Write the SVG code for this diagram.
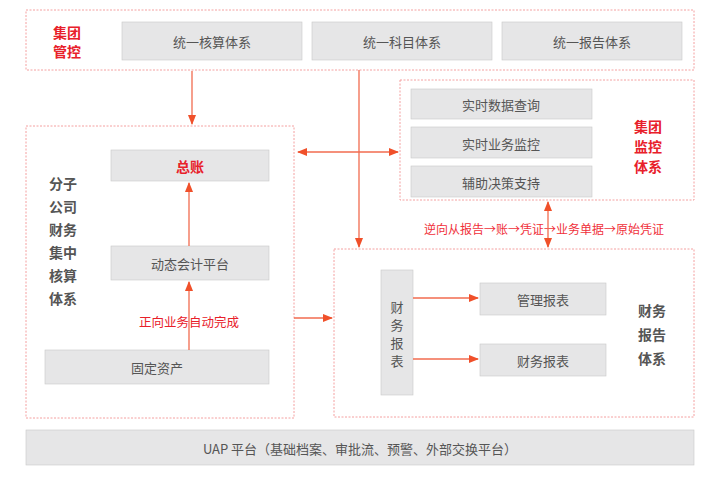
<svg xmlns="http://www.w3.org/2000/svg" width="720" height="480" viewBox="0 0 720 480">
<style>
text{font-family:"Noto Sans CJK SC","Liberation Sans",sans-serif;text-anchor:middle;dominant-baseline:central}
.fr{fill:#fff;stroke:#f4a0a0;stroke-width:1;stroke-dasharray:2 1.5}
.bx{fill:#e6e6e7;stroke:#c8c8c8;stroke-width:0.6}
.bt{font-size:13px;fill:#555}
.rl{font-size:14px;font-weight:bold;fill:#e8202a}
.gl{font-size:14px;font-weight:bold;fill:#555}
.ln{stroke:#f26b4f;stroke-width:1.3;fill:none}
</style>
<defs>
<marker id="a" viewBox="0 0 10 10" refX="9" refY="5" markerWidth="8" markerHeight="8" orient="auto-start-reverse"><path d="M0,1L10,5L0,9z" fill="#f0502a"/></marker>
</defs>
<rect width="720" height="480" fill="#fff"/>
<g id="top"><rect class="fr" x="26" y="10" width="668" height="60"/>
<text class="rl" x="67" y="32">集团</text><text class="rl" x="67" y="51">管控</text>
<rect class="bx" x="122" y="22" width="180" height="38"/><text class="bt" x="212" y="41">统一核算体系</text>
<rect class="bx" x="312" y="22" width="180" height="38"/><text class="bt" x="402" y="41">统一科目体系</text>
<rect class="bx" x="502" y="22" width="180" height="38"/><text class="bt" x="592" y="41">统一报告体系</text></g>
<g id="left"><rect class="fr" x="26" y="126" width="268" height="292"/>
<text class="gl" x="63" y="183">分子</text><text class="gl" x="63" y="206">公司</text><text class="gl" x="63" y="229">财务</text><text class="gl" x="63" y="252">集中</text><text class="gl" x="63" y="275">核算</text><text class="gl" x="63" y="298">体系</text>
<rect class="bx" x="111" y="150" width="158" height="31"/><text class="rl" x="190" y="166">总账</text>
<rect class="bx" x="111" y="246" width="158" height="34"/><text class="bt" x="190" y="263">动态会计平台</text>
<rect class="bx" x="45" y="350" width="224" height="34"/><text class="bt" x="157" y="367">固定资产</text>
<text x="189" y="321" style="font-size:12.5px;fill:#e8202a">正向业务自动完成</text></g>
<g id="mon"><rect class="fr" x="400" y="80" width="294" height="120"/>
<rect class="bx" x="411" y="89" width="181" height="30"/><text class="bt" x="501" y="104">实时数据查询</text>
<rect class="bx" x="411" y="127" width="181" height="31"/><text class="bt" x="501" y="143">实时业务监控</text>
<rect class="bx" x="411" y="166" width="181" height="31"/><text class="bt" x="501" y="182">辅助决策支持</text>
<text class="rl" x="648" y="126">集团</text><text class="rl" x="648" y="146">监控</text><text class="rl" x="648" y="166">体系</text></g>
<g id="rep"><rect class="fr" x="334" y="249" width="360" height="168"/>
<rect class="bx" x="381" y="270" width="32" height="125"/>
<text class="bt" x="397" y="306">财</text><text class="bt" x="397" y="324">务</text><text class="bt" x="397" y="342">报</text><text class="bt" x="397" y="360">表</text>
<rect class="bx" x="480" y="283" width="126" height="32"/><text class="bt" x="543" y="299">管理报表</text>
<rect class="bx" x="480" y="344" width="126" height="32"/><text class="bt" x="543" y="360">财务报表</text>
<text class="gl" x="652" y="310">财务</text><text class="gl" x="652" y="334">报告</text><text class="gl" x="652" y="358">体系</text></g>
<g id="uap"><rect x="26" y="430" width="668" height="35" fill="#e6e6e7" stroke="#c8c8c8" stroke-width="0.6"/>
<text class="bt" x="360" y="448">UAP 平台（基础档案、审批流、预警、外部交换平台）</text></g>
<text x="544" y="228" style="font-size:12px;fill:#f0303a">逆向从报告→账→凭证→业务单据→原始凭证</text>
<g id="connectors">
<line class="ln" x1="192" y1="71" x2="192" y2="124" marker-end="url(#a)"/>
<line class="ln" x1="359" y1="70" x2="359" y2="247" marker-end="url(#a)"/>
<line class="ln" x1="298" y1="152" x2="398" y2="152" marker-start="url(#a)" marker-end="url(#a)"/>
<line class="ln" x1="548" y1="202" x2="548" y2="247" marker-start="url(#a)" marker-end="url(#a)"/>
<line class="ln" x1="189" y1="350" x2="189" y2="282" marker-end="url(#a)"/>
<line class="ln" x1="189" y1="246" x2="189" y2="183" marker-end="url(#a)"/>
<line class="ln" x1="294" y1="318" x2="332" y2="318" marker-end="url(#a)"/>
<line class="ln" x1="413" y1="298" x2="478" y2="298" marker-end="url(#a)"/>
<line class="ln" x1="413" y1="359" x2="478" y2="359" marker-end="url(#a)"/>
</g>
</svg>
